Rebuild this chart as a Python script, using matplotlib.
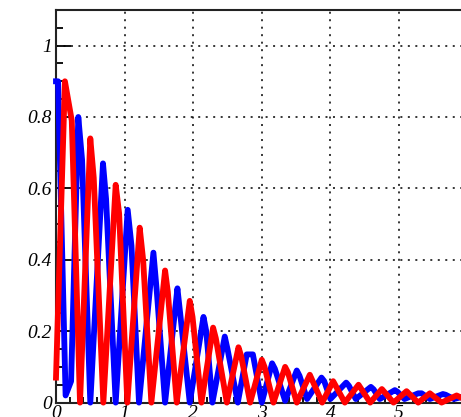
import numpy as np
import matplotlib
matplotlib.use("Agg")
import matplotlib.pyplot as plt
from matplotlib.ticker import MultipleLocator, FormatStrFormatter

# ==========================
# data (vertices)
# ==========================
blue_x = [0.00, 0.03, 0.14, 0.22, 0.325, 0.38, 0.50, 0.685, 0.73, 0.87,
          1.045, 1.10, 1.21, 1.42, 1.47, 1.59, 1.77, 1.81, 1.95,
          2.15, 2.19, 2.28, 2.46, 2.50, 2.65, 2.78, 2.87, 3.00,
          3.15, 3.19, 3.34, 3.51, 3.55, 3.66, 3.87, 3.91, 4.00,
          4.23, 4.27, 4.37, 4.59, 4.63, 4.72, 4.94, 4.98, 5.08,
          5.28, 5.33, 5.45, 5.64, 5.68, 5.80, 6.00]
blue_y = [0.90, 0.90, 0.02, 0.06, 0.80, 0.68, 0.00, 0.67, 0.57, 0.00,
          0.54, 0.44, 0.00, 0.42, 0.31, 0.00, 0.32, 0.25, 0.00,
          0.24, 0.20, 0.00, 0.185, 0.15, 0.00, 0.135, 0.135, 0.00,
          0.11, 0.095, 0.005, 0.09, 0.075, 0.01, 0.07, 0.06, 0.01,
          0.056, 0.047, 0.01, 0.044, 0.037, 0.01, 0.035, 0.03, 0.01,
          0.026, 0.026, 0.01, 0.024, 0.022, 0.01, 0.02]

red_x = [0.00, 0.13, 0.23, 0.35, 0.50, 0.55, 0.69, 0.87, 0.92, 1.04,
         1.22, 1.27, 1.39, 1.59, 1.63, 1.76, 1.95, 1.99, 2.12,
         2.29, 2.33, 2.49, 2.66, 2.70, 2.83, 3.00, 3.04, 3.17,
         3.34, 3.38, 3.51, 3.70, 3.88, 4.04, 4.21, 4.41, 4.58,
         4.75, 4.92, 5.11, 5.28, 5.45, 5.62, 5.84, 6.00]
red_y = [0.07, 0.90, 0.79, 0.00, 0.74, 0.63, 0.00, 0.61, 0.53, 0.00,
         0.49, 0.40, 0.00, 0.37, 0.31, 0.00, 0.285, 0.24, 0.00,
         0.21, 0.18, 0.00, 0.155, 0.13, 0.00, 0.12, 0.10, 0.00,
         0.10, 0.085, 0.00, 0.078, 0.00, 0.06, 0.00, 0.05, 0.00,
         0.038, 0.00, 0.032, 0.00, 0.026, 0.00, 0.02, 0.005]

# ==========================
# figure
# ==========================
W, H = 461, 417
fig = plt.figure(figsize=(W / 100, H / 100), dpi=100)

x0, y0 = 56, 402.6          # pixel of data origin
px_x, px_y = 68.6, 357.0    # pixels per unit
xmax, ymax = 6.2, 1.1
ax = fig.add_axes([x0 / W, (H - y0) / H, xmax * px_x / W, ymax * px_y / H])

ax.plot(blue_x, blue_y, color="#0000ff", lw=4.2, solid_joinstyle="round", clip_on=False, zorder=3)
ax.plot(red_x, red_y, color="#ff0000", lw=4.2, solid_joinstyle="round", clip_on=False, zorder=4)

ax.set_xlim(0, xmax)
ax.set_ylim(0, ymax)

ax.xaxis.set_major_locator(MultipleLocator(1))
ax.xaxis.set_minor_locator(MultipleLocator(0.2))
ax.yaxis.set_major_locator(MultipleLocator(0.2))
ax.yaxis.set_minor_locator(MultipleLocator(0.05))
ax.yaxis.set_major_formatter(FormatStrFormatter("%g"))
ax.xaxis.set_major_formatter(FormatStrFormatter("%g"))

ax.grid(True, which="major", color="black", lw=1.1, linestyle=(0, (1.3, 3.6)), zorder=1)

for side in ["left", "bottom", "top"]:
    ax.spines[side].set_linewidth(1.5)
    ax.spines[side].set_color("#222222")
ax.spines["right"].set_visible(False)

ax.tick_params(axis="y", which="major", direction="in", length=10.5, width=1.3, pad=3,
               labelsize=14)
ax.tick_params(axis="y", which="minor", direction="in", length=5, width=1.3)
ax.tick_params(axis="x", which="major", direction="in", length=8, width=1.3, pad=1.5,
               labelsize=14)
ax.tick_params(axis="x", which="minor", direction="in", length=4, width=1.3)

for lab in ax.get_xticklabels() + ax.get_yticklabels():
    lab.set_fontfamily("Liberation Serif")
    lab.set_fontstyle("italic")

fig.savefig("out.png", dpi=100)
